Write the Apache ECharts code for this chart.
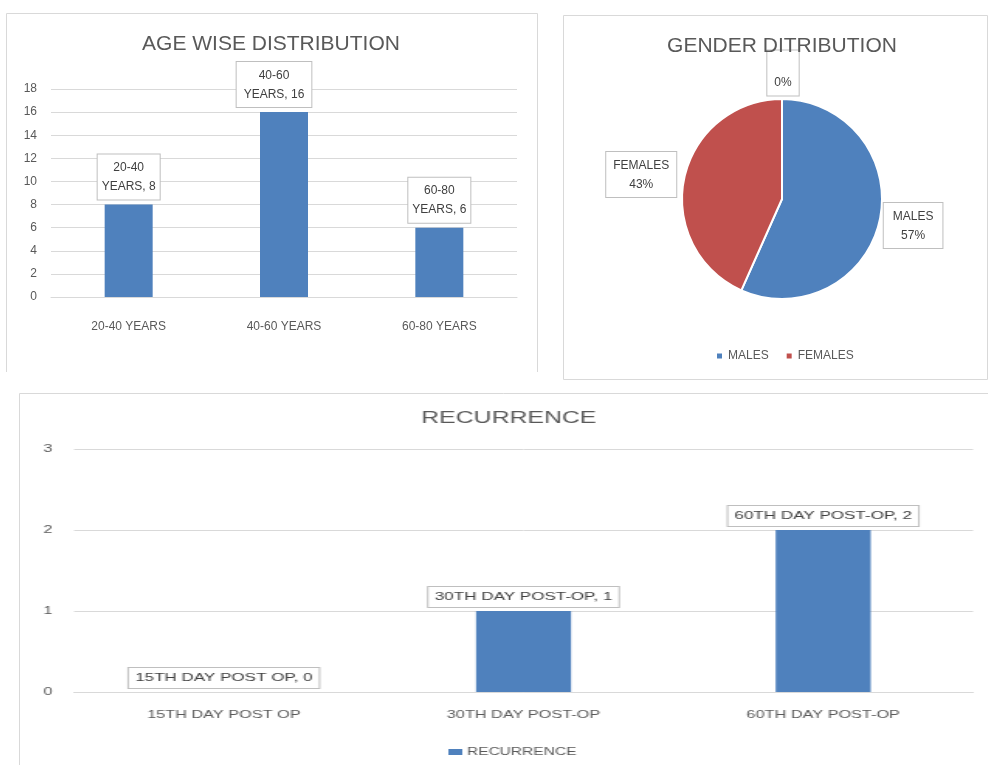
<!DOCTYPE html>
<html><head><meta charset="utf-8">
<script src="https://cdn.jsdelivr.net/npm/echarts@6/dist/echarts.min.js"></script>
<style>
html,body{margin:0;padding:0;background:#fff}
#c{position:absolute;left:0;top:0;width:988px;height:765px}
#r{position:absolute;left:19px;top:393px;width:625px;height:372px;transform:scaleX(1.55);transform-origin:0 0}
</style>
</head><body><div id="c"></div><div id="r"></div><script>
const ageCategories = ['20-40 YEARS', '40-60 YEARS', '60-80 YEARS'];
const ageValues = [8, 16, 6];
const genderNames = ['MALES', 'FEMALES', ''];
const genderValues = [17, 13, 0];
const genderColors = ['#4f81bd', '#c0504d', '#9bbb59'];
const recurrenceCategories = ['15TH DAY POST OP', '30TH DAY POST-OP', '60TH DAY POST-OP'];
const recurrenceValues = [0, 1, 2];
const recurrenceTicks = [0, 1, 2, 3];
const ageTicks = [0, 2, 4, 6, 8, 10, 12, 14, 16, 18];

const FONT = 'Liberation Sans';
const TXT = '#595959';
const GRID = '#d9d9d9';
const BAR = '#4f81bd';

const boxLabel = {
  show: true, position: 'top', backgroundColor: '#fff', borderColor: '#bfbfbf', borderWidth: 1,
  color: '#404040', fontFamily: FONT
};

// per-item label box padding (label styling only)
const ageLabelPadding = [[4, 4, 3, 4], [4, 7, 3, 7], [4, 4, 3, 4]];
const pieLabelPadding = [[4, 9, 3, 9], [4, 7, 3, 7], [4, 7, 3, 7]];

const chart = echarts.init(document.getElementById('c'));
chart.setOption({
  animation: false,
  textStyle: {fontFamily: FONT},
  graphic: [
    {type: 'polyline', shape: {points: [[6.5, 372], [6.5, 13.5], [537.5, 13.5], [537.5, 372]]}, style: {stroke: GRID, fill: null, lineWidth: 1}, silent: true},
    {type: 'rect', shape: {x: 563.5, y: 15.5, width: 424, height: 364}, style: {stroke: GRID, fill: null, lineWidth: 1}, silent: true},
    {type: 'polyline', shape: {points: [[19.5, 765], [19.5, 393.5], [988, 393.5]]}, style: {stroke: GRID, fill: null, lineWidth: 1}, silent: true}
  ],
  title: [
    {text: 'AGE WISE DISTRIBUTION', left: 266, top: 29, textAlign: 'center', textStyle: {fontSize: 21, fontWeight: 'normal', color: TXT, fontFamily: FONT}},
    {text: 'GENDER DITRIBUTION', left: 777, top: 31, textAlign: 'center', textStyle: {fontSize: 21, fontWeight: 'normal', color: TXT, fontFamily: FONT}}
  ],
  legend: [
    {data: ['MALES', 'FEMALES'], left: 710, top: 345, icon: 'rect', itemWidth: 7, itemHeight: 7, itemGap: 16,
     textStyle: {color: TXT, fontSize: 12, fontFamily: FONT}}
  ],
  grid: [{left: 51, right: 471, top: 89, bottom: 468}],
  xAxis: [
    {gridIndex: 0, type: 'category', data: ageCategories, axisLine: {lineStyle: {color: GRID}}, axisTick: {show: false},
     axisLabel: {color: TXT, fontSize: 12, margin: 24}}
  ],
  yAxis: [
    {gridIndex: 0, type: 'value', min: ageTicks[0], max: ageTicks[ageTicks.length - 1], interval: ageTicks[1] - ageTicks[0],
     axisLine: {show: false}, axisTick: {show: false},
     splitLine: {lineStyle: {color: GRID}}, axisLabel: {color: TXT, fontSize: 12, margin: 14}}
  ],
  series: [
    {type: 'bar', name: 'AGE', xAxisIndex: 0, yAxisIndex: 0, barWidth: 48,
     data: ageValues.map((v, i) => ({value: v, label: {padding: ageLabelPadding[i]}})),
     itemStyle: {color: BAR},
     label: Object.assign({}, boxLabel, {distance: 5, fontSize: 12, lineHeight: 19,
       formatter: p => p.name.replace(' ', '\n') + ', ' + p.value}),
     labelLayout: p => p.dataIndex === 1 ? {dx: -10} : {}},
    {type: 'pie', center: [782, 199], radius: 100, startAngle: 90, clockwise: true, avoidLabelOverlap: false,
     data: genderNames.map((n, i) => ({name: n, value: genderValues[i], itemStyle: {color: genderColors[i]},
       label: {padding: pieLabelPadding[i]}})),
     itemStyle: {borderColor: '#fff', borderWidth: 2},
     label: Object.assign({}, boxLabel, {position: 'outside', fontSize: 12, lineHeight: 19,
       formatter: p => '{c|' + p.name + '}\n{c|' + Math.round(p.percent) + '%}',
       rich: {c: {align: 'center', fontSize: 12, lineHeight: 19, color: '#404040', fontFamily: FONT}}}),
     labelLine: {show: false, length: 3, length2: 0},
     labelLayout: p => p.dataIndex === 2 ? {align: 'center', dx: 6, dy: -23} : (p.dataIndex === 0 ? {dx: -4, dy: 5} : {dy: -3}),
     emphasis: {disabled: true}}
  ]
});

const rchart = echarts.init(document.getElementById('r'));
rchart.setOption({
  animation: false,
  textStyle: {fontFamily: FONT},
  title: {text: 'RECURRENCE', left: 311, top: 13, textAlign: 'center',
    textStyle: {fontSize: 16, fontWeight: 'normal', color: TXT, fontFamily: FONT}},
  legend: {data: ['RECURRENCE'], left: 272, top: 349, icon: 'rect', itemWidth: 9, itemHeight: 6, itemGap: 5,
    textStyle: {color: TXT, fontSize: 10, fontFamily: FONT, padding: [0, 0, 0, -2]}},
  grid: {left: 35.5, right: 9.5, top: 56, bottom: 73},
  xAxis: {type: 'category', data: recurrenceCategories, axisLine: {lineStyle: {color: GRID}}, axisTick: {show: false},
    axisLabel: {color: TXT, fontSize: 10.5, margin: 18}},
  yAxis: {type: 'value', min: recurrenceTicks[0], max: recurrenceTicks[recurrenceTicks.length - 1], interval: recurrenceTicks[1] - recurrenceTicks[0],
    axisLine: {show: false}, axisTick: {show: false},
    splitLine: {lineStyle: {color: GRID}}, axisLabel: {color: TXT, fontSize: 10.5, margin: 14}},
  series: [
    {type: 'bar', name: 'RECURRENCE', data: recurrenceValues, barWidth: 61.3,
     itemStyle: {color: BAR},
     label: Object.assign({}, boxLabel, {distance: 4, fontSize: 11, lineHeight: 14, padding: [3, 4, 3, 4],
       formatter: p => p.name + ', ' + p.value})}
  ]
});
</script></body></html>
